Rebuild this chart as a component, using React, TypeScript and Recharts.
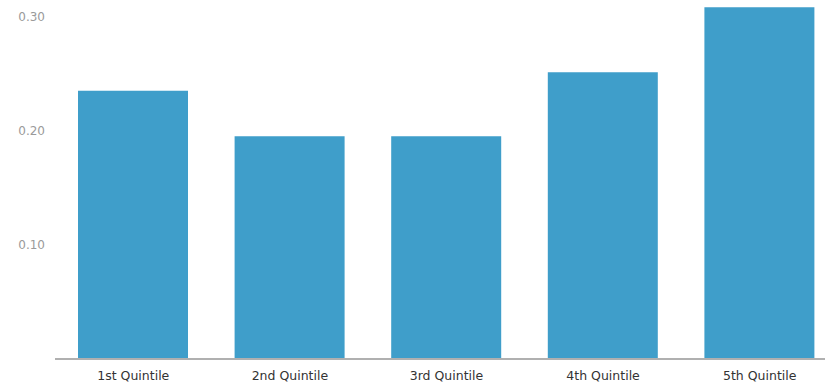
import React from 'react';
import { Bar, BarChart, CartesianGrid, XAxis, YAxis } from 'recharts';

const quintiles = ['1st Quintile', '2nd Quintile', '3rd Quintile', '4th Quintile', '5th Quintile'];
const shares = [0.235, 0.195, 0.195, 0.251, 0.308];
const yTicks = [0.1, 0.2, 0.3];

const BAR_COLOR = '#3f9eca';
const FONT = '"DejaVu Sans", Verdana, sans-serif';

export default function App() {
  const data = quintiles.map((name, i) => ({ name, value: shares[i] }));

  return (
    <div style={{ width: 825, height: 388, overflow: 'hidden', background: '#fff' }}>
      <style>{'body { margin: 0; overflow: hidden; }'}</style>
      <BarChart
        width={838}
        height={388}
        data={data}
        margin={{ top: 5, right: 0, bottom: 0, left: 0 }}
        barCategoryGap={0}
      >
        <CartesianGrid vertical={false} horizontal={false} />
        <XAxis
          dataKey="name"
          height={29}
          tickLine={false}
          tickMargin={6}
          axisLine={{ stroke: '#b0b0b0', strokeWidth: 2 }}
          tick={{ fill: '#333', fontSize: 12.5, fontFamily: FONT }}
          interval={0}
        />
        <YAxis
          width={55}
          domain={[0, 0.31]}
          ticks={yTicks}
          axisLine={false}
          tickLine={false}
          tickMargin={4}
          tickFormatter={(v: number) => v.toFixed(2)}
          tick={{ fill: '#9a9a9a', fontSize: 12, fontFamily: FONT }}
        />
        <Bar dataKey="value" fill={BAR_COLOR} barSize={110} isAnimationActive={false} />
      </BarChart>
    </div>
  );
}
